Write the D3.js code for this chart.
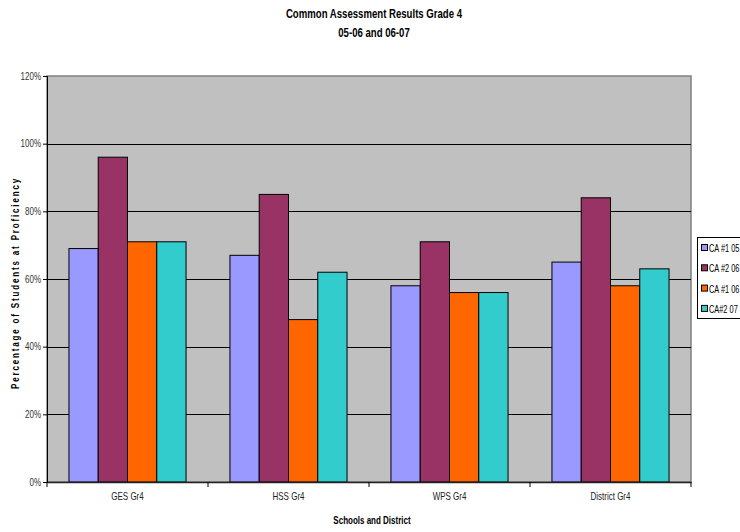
<!DOCTYPE html>
<html>
<head>
<meta charset="utf-8">
<script src="https://cdn.jsdelivr.net/npm/d3@7"></script>
<style>
  body { margin: 0; background: #fff; }
  svg text { font-family: "Liberation Sans", Arial, sans-serif; }
</style>
</head>
<body>
<div id="chart"></div>
<script>
// chart data
const schools = ["GES Gr4", "HSS Gr4", "WPS Gr4", "District Gr4"]
const seriesNames = ["CA #1 05", "CA #2 06", "CA #1 06", "CA#2 07"]
const seriesColors = ["#9999ff", "#993366", "#ff6600", "#33cccc"]
const ca1_0506 = [69, 67, 58, 65]
const ca2_0506 = [96, 85, 71, 84]
const ca1_0607 = [71, 48, 56, 58]
const ca2_0607 = [71, 62, 56, 63]
const yTicks = [0, 20, 40, 60, 80, 100, 120]

const allSeries = [ca1_0506, ca2_0506, ca1_0607, ca2_0607]

const width = 740, height = 532
const plot = { left: 47, right: 691, top: 76, bottom: 482 }
const narrow = 0.8 // the original font is a condensed Arial

let svg = d3.select("#chart")
    .append("svg")
        .attr("width", width)
        .attr("height", height)

// narrow text helper
function label(parent, x, y, str, size, bold, anchor) {
    return parent.append("text")
        .attr("transform", "translate(" + x + "," + y + ") scale(" + narrow + ",1)")
        .attr("text-anchor", anchor || "middle")
        .attr("font-size", size)
        .attr("font-weight", bold ? "bold" : "normal")
        .text(str)
}

// titles
label(svg, 374, 18, "Common Assessment Results  Grade 4", 12, true)
label(svg, 374, 37, "05-06 and 06-07", 12, true)

const x0 = d3.scaleBand()
    .domain(schools)
    .range([plot.left, plot.right])

const x1 = d3.scaleBand()
    .domain(d3.range(seriesNames.length))
    .range([0, x0.bandwidth()])
    .paddingOuter(0.75)

const y = d3.scaleLinear()
    .domain([0, 120])
    .range([plot.bottom, plot.top])

// plot background
svg.append("rect")
    .attr("x", plot.left).attr("y", plot.top)
    .attr("width", plot.right - plot.left)
    .attr("height", plot.bottom - plot.top)
    .attr("fill", "#c0c0c0")
    .attr("stroke", "#808080")
    .attr("stroke-width", 1.5)

// gridlines
svg.append("g")
    .selectAll("line")
    .data(yTicks.slice(1, -1))
    .join("line")
        .attr("x1", plot.left).attr("x2", plot.right)
        .attr("y1", d => Math.round(y(d)) + 0.5)
        .attr("y2", d => Math.round(y(d)) + 0.5)
        .attr("stroke", "#000")

// bars
const groups = svg.append("g")
    .selectAll("g")
    .data(schools)
    .join("g")
        .attr("transform", d => "translate(" + x0(d) + ",0)")

groups.selectAll("rect")
    .data((d, i) => allSeries.map((s, k) => ({ k: k, v: s[i] })))
    .join("rect")
        .attr("x", d => x1(d.k))
        .attr("y", d => y(d.v))
        .attr("width", x1.bandwidth())
        .attr("height", d => plot.bottom - y(d.v))
        .attr("fill", d => seriesColors[d.k])
        .attr("stroke", "#000")
        .attr("stroke-width", 1)

// y axis
const yAxis = d3.axisLeft(y)
    .tickValues(yTicks)
    .tickFormat(d => d + "%")
    .tickSize(4)
    .tickPadding(2)
svg.append("g")
    .attr("transform", "translate(" + plot.left + ",0)")
    .call(yAxis)
    .call(g => g.selectAll("text")
        .attr("font-size", 10).attr("fill", "#333")
        .attr("transform", "translate(-6,0) scale(" + narrow + ",1)")
        .attr("x", 0)
        .style("font-family", "'Liberation Sans', Arial, sans-serif"))
    .call(g => g.selectAll("line, path").attr("stroke", "#000"))

// x axis
const xAxis = d3.axisBottom(x0).tickSize(0).tickPadding(11)
const xg = svg.append("g")
    .attr("transform", "translate(0," + plot.bottom + ")")
    .call(xAxis)
xg.select(".domain").attr("stroke", "#222").attr("stroke-width", 1.5)
xg.selectAll("text").attr("font-size", 10).attr("fill", "#222")
    .attr("transform", "scale(" + narrow + ",1)")
    .style("font-family", "'Liberation Sans', Arial, sans-serif")
xg.selectAll(".tick").each(function () {
    // undo scaling of tick position
    const t = d3.select(this)
    const tx = +t.attr("transform").match(/translate\(([^,]+)/)[1]
    t.select("text").attr("transform", "scale(" + narrow + ",1)")
})
xg.selectAll(".sep")
    .data(schools.concat(["end"]))
    .join("line")
        .attr("class", "sep")
        .attr("x1", (d, i) => plot.left + i * x0.step())
        .attr("x2", (d, i) => plot.left + i * x0.step())
        .attr("y1", 0).attr("y2", 5)
        .attr("stroke", "#000")

// axis titles
label(svg, 372, 524, "Schools and District", 10, true)

svg.append("text")
    .attr("transform", "translate(19," + ((plot.top + plot.bottom) / 2 + 4) + ") rotate(-90) scale(" + narrow + ",1)")
    .attr("text-anchor", "middle")
    .attr("font-size", 10).attr("font-weight", "bold")
    .attr("letter-spacing", 2.3)
    .text("Percentage of Students at Proficiency")

// legend
const legend = svg.append("g").attr("transform", "translate(697,237)")
legend.append("rect")
    .attr("x", 0.5).attr("y", 0.5)
    .attr("width", 60).attr("height", 81)
    .attr("fill", "#fff").attr("stroke", "#000")

const items = legend.selectAll("g.item")
    .data(seriesNames)
    .join("g")
        .attr("class", "item")
        .attr("transform", (d, i) => "translate(0," + (11 + i * 20.3) + ")")
items.append("rect")
    .attr("x", 4.5).attr("y", -3.5)
    .attr("width", 6).attr("height", 6)
    .attr("fill", (d, i) => seriesColors[i])
    .attr("stroke", "#000")
items.append("text")
    .attr("transform", "translate(12,4) scale(0.74,1)")
    .attr("font-size", 10)
    .text(d => d)
</script>
</body>
</html>
